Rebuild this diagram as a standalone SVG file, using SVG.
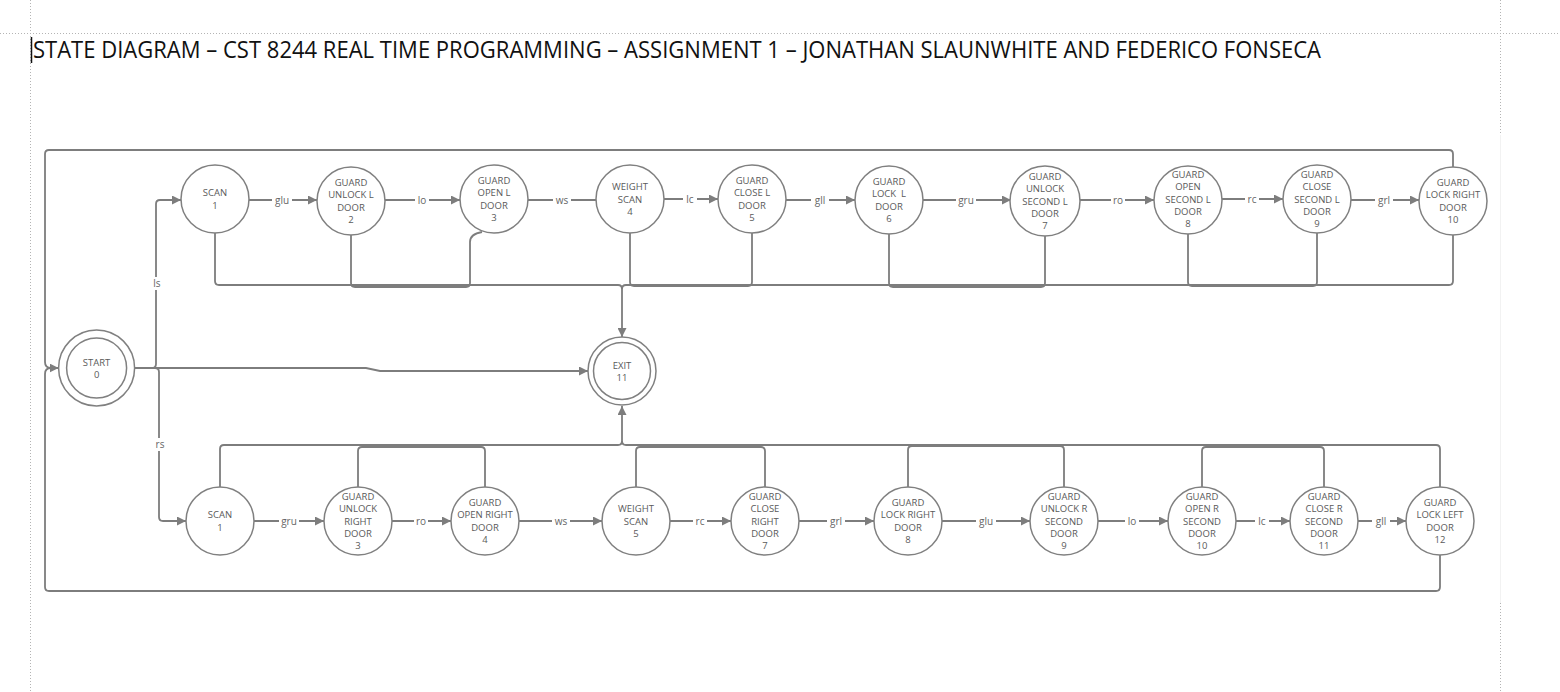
<svg xmlns="http://www.w3.org/2000/svg" width="1560" height="692" viewBox="0 0 1560 692">
<style>
.guide{stroke:#b4b4b4;stroke-width:1;stroke-dasharray:1 2;fill:none}
.title{font-family:"Open Sans","Liberation Sans",sans-serif;font-size:23px;fill:#111}
.node circle{fill:#fff;stroke:#808080;stroke-width:1.5}
.node text{font-family:"Open Sans","Liberation Sans",sans-serif;font-size:9.5px;fill:#5a5a5a;text-anchor:middle}
.edge{fill:none;stroke:#7d7d7d;stroke-width:1.8}
.lbl rect{fill:#fff}
.lbl text{font-family:"Open Sans","Liberation Sans",sans-serif;font-size:10px;fill:#666;text-anchor:middle}
</style>
<defs>
<marker id="arr" viewBox="0 0 10 10" refX="10" refY="5" markerWidth="9" markerHeight="9" markerUnits="userSpaceOnUse" orient="auto">
<path d="M0,0 L10,5 L0,10 z" fill="#7d7d7d"/>
</marker>
</defs>
<rect width="1560" height="692" fill="#fff"/>
<g id="guides">
<line class="guide" x1="30.5" y1="0" x2="30.5" y2="692"/>
<line class="guide" x1="0" y1="33.5" x2="1560" y2="33.5"/>
<line class="guide" x1="1500.5" y1="0" x2="1500.5" y2="135"/>
<line class="guide" x1="1500.5" y1="603" x2="1500.5" y2="692"/>
<line x1="1500.5" y1="135" x2="1500.5" y2="603" stroke="#f2f2f2" stroke-width="1"/>
</g>
<line x1="31.5" y1="37" x2="31.5" y2="63" stroke="#111" stroke-width="1.5"/>
<text class="title" x="33" y="58" textLength="1288" lengthAdjust="spacingAndGlyphs">STATE DIAGRAM – CST 8244 REAL TIME PROGRAMMING – ASSIGNMENT 1 – JONATHAN SLAUNWHITE AND FEDERICO FONSECA</text>

<g id="connectors">
<!-- outer loops -->
<path class="edge" d="M1453 167 V154 Q1453 150 1449 150 H49 Q45 150 45 154 V362 Q45 368 51 368 H58.6" marker-end="url(#arr)"/>
<path class="edge" d="M1440 555 V587 Q1440 591 1436 591 H49 Q45 591 45 587 V374 Q45 368 51 368"/>
<!-- start branches -->
<path class="edge" d="M134.6 368 H152 Q156 368 156 364 V204 Q156 200 160 200 H181" marker-end="url(#arr)"/>
<path class="edge" d="M134.6 368 H155 Q159 368 159 372 V517 Q159 521 163 521 H186" marker-end="url(#arr)"/>
<path class="edge" d="M134.6 368 H366 L380 371 H588" marker-end="url(#arr)"/>
<!-- top row transitions -->
<path class="edge" d="M249 200 H317" marker-end="url(#arr)"/>
<path class="edge" d="M385 200 H460" marker-end="url(#arr)"/>
<path class="edge" d="M528 200 H596"/>
<path class="edge" d="M664 199 H718" marker-end="url(#arr)"/>
<path class="edge" d="M786 200 H855" marker-end="url(#arr)"/>
<path class="edge" d="M923 200 H1011" marker-end="url(#arr)"/>
<path class="edge" d="M1079 200 H1154" marker-end="url(#arr)"/>
<path class="edge" d="M1222 199 H1283" marker-end="url(#arr)"/>
<path class="edge" d="M1351 200 H1419" marker-end="url(#arr)"/>
<!-- top row to exit -->
<path class="edge" d="M215 233 V281 Q215 285 219 285 H618 Q622 285 622 289 V337" marker-end="url(#arr)"/>
<path class="edge" d="M1453 235 V281 Q1453 285 1449 285 H626 Q622 285 622 289"/>
<path class="edge" d="M351 235 V283 Q351 287 355 287 H466 Q470 287 470 283 V242 Q470 234 482 232"/>
<path class="edge" d="M630 233 V282 Q630 286 634 286 H748 Q752 286 752 282 V233"/>
<path class="edge" d="M889 234 V283 Q889 287 893 287 H1041 Q1045 287 1045 283 V235"/>
<path class="edge" d="M1188 234 V282 Q1188 286 1192 286 H1313 Q1317 286 1317 282 V233"/>
<!-- bottom row transitions -->
<path class="edge" d="M254 521 H324" marker-end="url(#arr)"/>
<path class="edge" d="M392 521 H451" marker-end="url(#arr)"/>
<path class="edge" d="M519 521 H602" marker-end="url(#arr)"/>
<path class="edge" d="M670 521 H731" marker-end="url(#arr)"/>
<path class="edge" d="M799 521 H874" marker-end="url(#arr)"/>
<path class="edge" d="M942 521 H1030" marker-end="url(#arr)"/>
<path class="edge" d="M1098 521 H1168" marker-end="url(#arr)"/>
<path class="edge" d="M1236 521 H1290" marker-end="url(#arr)"/>
<path class="edge" d="M1358 521 H1406" marker-end="url(#arr)"/>
<!-- bottom row to exit -->
<path class="edge" d="M220 487 V449 Q220 445 224 445 H618 Q622 445 622 441 V406" marker-end="url(#arr)"/>
<path class="edge" d="M1440 487 V449 Q1440 445 1436 445 H626 Q622 445 622 441"/>
<path class="edge" d="M358 487 V451 Q358 447 362 447 H481 Q485 447 485 451 V487"/>
<path class="edge" d="M636 487 V451 Q636 447 640 447 H761 Q765 447 765 451 V487"/>
<path class="edge" d="M908 487 V450 Q908 446 912 446 H1060 Q1064 446 1064 450 V487"/>
<path class="edge" d="M1202 487 V451 Q1202 447 1206 447 H1320 Q1324 447 1324 451 V487"/>
<!-- labels -->
<g class="lbl">
<rect x="150" y="277" width="14" height="13"/><text x="157" y="286.5">ls</text>
<rect x="152" y="438" width="16" height="13"/><text x="160" y="447.5">rs</text>
<rect x="272" y="194" width="20" height="12"/><text x="282" y="203.5">glu</text>
<rect x="415" y="194" width="14" height="12"/><text x="422" y="203.5">lo</text>
<rect x="553" y="194" width="18" height="12"/><text x="562" y="203.5">ws</text>
<rect x="683" y="193" width="14" height="12"/><text x="690" y="202.5">lc</text>
<rect x="811" y="194" width="18" height="12"/><text x="820" y="203.5">gll</text>
<rect x="956" y="194" width="20" height="12"/><text x="966" y="203.5">gru</text>
<rect x="1111" y="194" width="14" height="12"/><text x="1118" y="203.5">ro</text>
<rect x="1245" y="193" width="14" height="12"/><text x="1252" y="202.5">rc</text>
<rect x="1375" y="194" width="18" height="12"/><text x="1384" y="203.5">grl</text>
<rect x="279" y="515" width="20" height="12"/><text x="289" y="524.5">gru</text>
<rect x="414" y="515" width="14" height="12"/><text x="421" y="524.5">ro</text>
<rect x="552" y="515" width="18" height="12"/><text x="561" y="524.5">ws</text>
<rect x="693" y="515" width="14" height="12"/><text x="700" y="524.5">rc</text>
<rect x="827" y="515" width="18" height="12"/><text x="836" y="524.5">grl</text>
<rect x="976" y="515" width="20" height="12"/><text x="986" y="524.5">glu</text>
<rect x="1125" y="515" width="14" height="12"/><text x="1132" y="524.5">lo</text>
<rect x="1255" y="515" width="14" height="12"/><text x="1262" y="524.5">lc</text>
<rect x="1372" y="515" width="18" height="12"/><text x="1381" y="524.5">gll</text>
</g>
</g>

<g id="start" class="node">
<circle cx="96.6" cy="368" r="38"/><circle cx="96.6" cy="368" r="30"/>
<text x="96.6" y="365.5">START<tspan x="96.6" dy="12.3">0</tspan></text>
</g>
<g id="exit" class="node">
<circle cx="622" cy="371" r="34"/><circle cx="622" cy="371" r="28.5"/>
<text x="622" y="368.5">EXIT<tspan x="622" dy="12.3">11</tspan></text>
</g>

<g id="l1" class="node"><circle cx="215" cy="199" r="34"/>
<text x="215" y="196.4">SCAN<tspan x="215" dy="12.3">1</tspan></text></g>
<g id="l2" class="node"><circle cx="351" cy="201" r="34"/>
<text x="351" y="186">GUARD<tspan x="351" dy="12.3">UNLOCK L</tspan><tspan x="351" dy="12.3">DOOR</tspan><tspan x="351" dy="12.3">2</tspan></text></g>
<g id="l3" class="node"><circle cx="494" cy="199" r="34"/>
<text x="494" y="184">GUARD<tspan x="494" dy="12.3">OPEN L</tspan><tspan x="494" dy="12.3">DOOR</tspan><tspan x="494" dy="12.3">3</tspan></text></g>
<g id="l4" class="node"><circle cx="630" cy="199" r="34"/>
<text x="630" y="190.2">WEIGHT<tspan x="630" dy="12.3">SCAN</tspan><tspan x="630" dy="12.3">4</tspan></text></g>
<g id="l5" class="node"><circle cx="752" cy="199" r="34"/>
<text x="752" y="184">GUARD<tspan x="752" dy="12.3">CLOSE L</tspan><tspan x="752" dy="12.3">DOOR</tspan><tspan x="752" dy="12.3">5</tspan></text></g>
<g id="l6" class="node"><circle cx="889" cy="200" r="34"/>
<text x="889" y="185" xml:space="preserve">GUARD<tspan x="889" dy="12.3">LOCK  L</tspan><tspan x="889" dy="12.3">DOOR</tspan><tspan x="889" dy="12.3">6</tspan></text></g>
<g id="l7" class="node"><circle cx="1045" cy="201" r="35"/>
<text x="1045" y="179.9">GUARD<tspan x="1045" dy="12.3">UNLOCK</tspan><tspan x="1045" dy="12.3">SECOND L</tspan><tspan x="1045" dy="12.3">DOOR</tspan><tspan x="1045" dy="12.3">7</tspan></text></g>
<g id="l8" class="node"><circle cx="1188" cy="200" r="34"/>
<text x="1188" y="178">GUARD<tspan x="1188" dy="12.3">OPEN</tspan><tspan x="1188" dy="12.3">SECOND L</tspan><tspan x="1188" dy="12.3">DOOR</tspan><tspan x="1188" dy="12.3">8</tspan></text></g>
<g id="l9" class="node"><circle cx="1317" cy="199" r="34"/>
<text x="1317" y="177.9">GUARD<tspan x="1317" dy="12.3">CLOSE</tspan><tspan x="1317" dy="12.3">SECOND L</tspan><tspan x="1317" dy="12.3">DOOR</tspan><tspan x="1317" dy="12.3">9</tspan></text></g>
<g id="l10" class="node"><circle cx="1453" cy="201" r="34"/>
<text x="1453" y="186">GUARD<tspan x="1453" dy="12.3">LOCK RIGHT</tspan><tspan x="1453" dy="12.3">DOOR</tspan><tspan x="1453" dy="12.3">10</tspan></text></g>

<g id="r1" class="node"><circle cx="220" cy="521" r="34"/>
<text x="220" y="518.4">SCAN<tspan x="220" dy="12.3">1</tspan></text></g>
<g id="r3" class="node"><circle cx="358" cy="521" r="34"/>
<text x="358" y="499.9">GUARD<tspan x="358" dy="12.3">UNLOCK</tspan><tspan x="358" dy="12.3">RIGHT</tspan><tspan x="358" dy="12.3">DOOR</tspan><tspan x="358" dy="12.3">3</tspan></text></g>
<g id="r4" class="node"><circle cx="485" cy="521" r="34"/>
<text x="485" y="506">GUARD<tspan x="485" dy="12.3">OPEN RIGHT</tspan><tspan x="485" dy="12.3">DOOR</tspan><tspan x="485" dy="12.3">4</tspan></text></g>
<g id="r5" class="node"><circle cx="636" cy="521" r="34"/>
<text x="636" y="512.2">WEIGHT<tspan x="636" dy="12.3">SCAN</tspan><tspan x="636" dy="12.3">5</tspan></text></g>
<g id="r7" class="node"><circle cx="765" cy="521" r="34"/>
<text x="765" y="499.9">GUARD<tspan x="765" dy="12.3">CLOSE</tspan><tspan x="765" dy="12.3">RIGHT</tspan><tspan x="765" dy="12.3">DOOR</tspan><tspan x="765" dy="12.3">7</tspan></text></g>
<g id="r8" class="node"><circle cx="908" cy="521" r="34"/>
<text x="908" y="506">GUARD<tspan x="908" dy="12.3">LOCK RIGHT</tspan><tspan x="908" dy="12.3">DOOR</tspan><tspan x="908" dy="12.3">8</tspan></text></g>
<g id="r9" class="node"><circle cx="1064" cy="521" r="34"/>
<text x="1064" y="499.9">GUARD<tspan x="1064" dy="12.3">UNLOCK R</tspan><tspan x="1064" dy="12.3">SECOND</tspan><tspan x="1064" dy="12.3">DOOR</tspan><tspan x="1064" dy="12.3">9</tspan></text></g>
<g id="r10" class="node"><circle cx="1202" cy="521" r="34"/>
<text x="1202" y="499.9">GUARD<tspan x="1202" dy="12.3">OPEN R</tspan><tspan x="1202" dy="12.3">SECOND</tspan><tspan x="1202" dy="12.3">DOOR</tspan><tspan x="1202" dy="12.3">10</tspan></text></g>
<g id="r11" class="node"><circle cx="1324" cy="521" r="34"/>
<text x="1324" y="499.9">GUARD<tspan x="1324" dy="12.3">CLOSE R</tspan><tspan x="1324" dy="12.3">SECOND</tspan><tspan x="1324" dy="12.3">DOOR</tspan><tspan x="1324" dy="12.3">11</tspan></text></g>
<g id="r12" class="node"><circle cx="1440" cy="521" r="34"/>
<text x="1440" y="506">GUARD<tspan x="1440" dy="12.3">LOCK LEFT</tspan><tspan x="1440" dy="12.3">DOOR</tspan><tspan x="1440" dy="12.3">12</tspan></text></g>
</svg>
